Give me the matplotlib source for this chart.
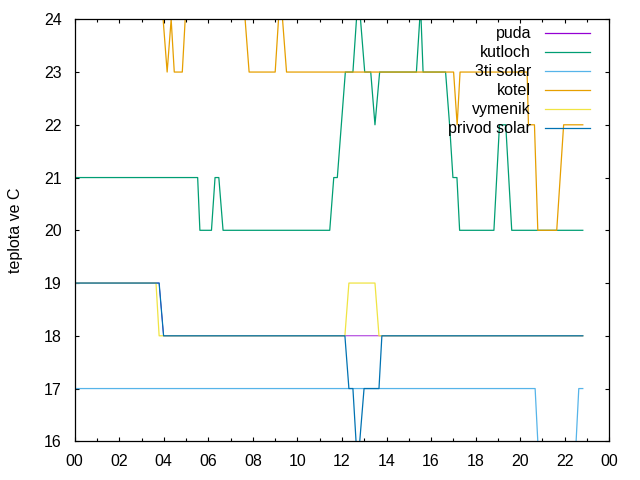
import numpy as np
import matplotlib
matplotlib.use("Agg")
from matplotlib import pyplot as plt
from matplotlib.ticker import MultipleLocator, FuncFormatter

plt.rcParams['font.family'] = ['Liberation Sans', 'DejaVu Sans']
plt.rcParams['font.size'] = 11.5

# time in hours, temperature in C (values outside 16..24 run off the plot)
t_puda = [0, 3.79, 3.99, 22.81]
puda = [19, 19, 18, 18]

t_kutloch = [0, 5.52, 5.62, 6.14, 6.30, 6.47, 6.66, 11.45, 11.63, 11.79, 11.97,
             12.15, 12.49, 12.65, 12.83, 13.02, 13.29, 13.48, 13.69, 15.34, 15.49,
             15.55, 15.64, 16.65, 16.83, 16.98, 17.16, 17.28, 18.82, 19.07, 19.35,
             19.62, 22.81]
kutloch = [21, 21, 20, 20, 21, 21, 20, 20, 21, 21, 22,
           23, 23, 24, 24, 23, 23, 22, 23, 23, 24,
           24, 23, 23, 22, 21, 21, 20, 20, 22, 22,
           20, 20]

t_solar3 = [0, 20.67, 20.91, 22.39, 22.63, 22.81]
solar3 = [17, 17, 15, 15, 17, 17]

t_kotel = [0, 3.97, 4.15, 4.33, 4.47, 4.83, 4.96, 7.65, 7.83, 9.00, 9.15, 9.33,
           9.51, 17.01, 17.17, 17.30, 20.31, 20.37, 20.64, 20.79, 21.64, 21.95, 22.81]
kotel = [24, 24, 23, 24, 23, 23, 24, 24, 23, 23, 24, 24,
         23, 23, 22, 23, 23, 22, 22, 20, 20, 22, 22]

t_vymenik = [0, 3.65, 3.79, 12.13, 12.31, 13.48, 13.66, 22.81]
vymenik = [19, 19, 18, 18, 19, 19, 18, 18]

t_privod = [0, 3.79, 3.99, 12.13, 12.31, 12.49, 12.70, 12.99, 13.66, 13.79, 22.81]
privod = [19, 19, 18, 18, 17, 17, 15.5, 17, 17, 18, 18]

series = [
    ("puda", t_puda, puda, "#9400d3"),
    ("kutloch", t_kutloch, kutloch, "#009e73"),
    ("3ti solar", t_solar3, solar3, "#56b4e9"),
    ("kotel", t_kotel, kotel, "#e69f00"),
    ("vymenik", t_vymenik, vymenik, "#f0e442"),
    ("privod solar", t_privod, privod, "#0072b2"),
]

fig = plt.figure(figsize=(6.4, 4.8), dpi=100)
ax = fig.add_axes([74.7/640, 1 - 441.3/480, 534.6/640, 422/480])

for name, t, v, c in series:
    # puda sits underneath the others, keep it a touch thinner so it only shows where they leave it
    ax.plot(t, v, color=c, lw=0.6 if name == "puda" else 0.9)

ax.set_xlim(0, 24)
ax.set_ylim(16, 24)
ax.xaxis.set_major_locator(MultipleLocator(2))
ax.xaxis.set_minor_locator(MultipleLocator(1))
ax.xaxis.set_major_formatter(FuncFormatter(lambda h, p: "%02d" % (int(round(h)) % 24)))
ax.yaxis.set_major_locator(MultipleLocator(1))
ax.tick_params(which='both', direction='in', top=True, right=True, width=0.8, pad=9.5)
ax.tick_params(which='major', length=3)
ax.tick_params(which='minor', length=2)
for s in ax.spines.values():
    s.set_linewidth(0.9)
    s.set_zorder(3)

ax.set_ylabel("teplota ve C", va='center')
ax.yaxis.set_label_coords((15 - 74.7) / 534.6, 0.5)

# gnuplot-like key: right aligned text, sample line after it
for i, (name, t, v, c) in enumerate(series):
    y_line = (441.3 - (33.3 + 19 * i)) / 422
    y_text = (441.3 - (38.3 + 19 * i)) / 422
    ax.text((531 - 74.7) / 534.6, y_text, name, ha='right', va='baseline',
            transform=ax.transAxes)
    ax.plot([(545 - 74.7) / 534.6, (590 - 74.7) / 534.6], [y_line, y_line],
            color=c, lw=0.9, transform=ax.transAxes, clip_on=False)

fig.savefig("out.png", dpi=100)
